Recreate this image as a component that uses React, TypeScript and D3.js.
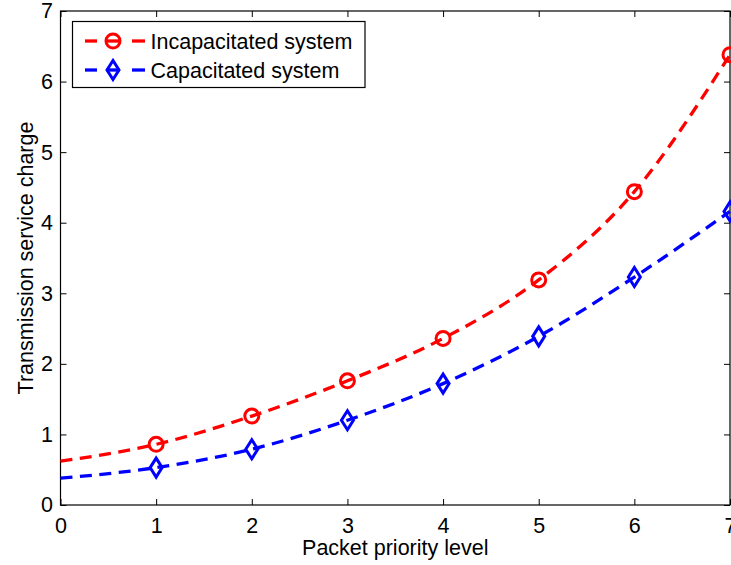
import { useEffect, useRef } from 'react';
import * as d3 from 'd3';

// packet priority levels (x) and the two charge series
const levels = [0, 1, 2, 3, 4, 5, 6, 7];
const incapacitated = [0.62, 0.86, 1.26, 1.76, 2.36, 3.19, 4.44, 6.38];
const capacitated = [0.38, 0.53, 0.79, 1.2, 1.72, 2.39, 3.23, 4.16];
const markerLevels = [1, 2, 3, 4, 5, 6, 7];
const xTicks = [0, 1, 2, 3, 4, 5, 6, 7];
const yTicks = [0, 1, 2, 3, 4, 5, 6, 7];
const seriesNames = ['Incapacitated system', 'Capacitated system'];

const FONT = '"Liberation Sans", Arial, Helvetica, sans-serif';

function diamond(cx: number, cy: number, w = 6, h = 9.5) {
  return `M${cx},${cy - h}L${cx + w},${cy}L${cx},${cy + h}L${cx - w},${cy}Z`;
}

function App() {
  const ref = useRef<SVGSVGElement>(null);

  useEffect(() => {
    drawChart();
    // eslint-disable-next-line
  }, []);

  function drawChart() {
    const config = { width: 731, height: 565, left: 60.5, right: 730, top: 11, bottom: 505 };
    const svg = d3.select(ref.current);
    svg.selectAll('*').remove();

    const xScale = d3.scaleLinear().domain([0, 7]).range([config.left, config.right]);
    const yScale = d3.scaleLinear().domain([0, 7]).range([config.bottom, config.top]);

    // axes, ticks pointing inward
    const styleAxis = (g: any) => {
      g.select('.domain').remove();
      g.selectAll('.tick line').attr('stroke', '#000').attr('stroke-width', 1);
      g.selectAll('.tick text')
        .attr('fill', '#000')
        .style('font-family', FONT)
        .style('font-size', '21.5px');
    };

    svg.append('g')
      .attr('transform', `translate(0,${config.bottom})`)
      .call(d3.axisBottom(xScale).tickValues(xTicks).tickSizeInner(-6).tickSizeOuter(0).tickPadding(13).tickFormat(d3.format('d')))
      .call(styleAxis);
    svg.append('g')
      .attr('transform', `translate(0,${config.top})`)
      .call(d3.axisTop(xScale).tickValues(xTicks).tickSizeInner(-6).tickSizeOuter(0).tickFormat(() => ''))
      .call(styleAxis);
    svg.append('g')
      .attr('transform', `translate(${config.left},0)`)
      .call(d3.axisLeft(yScale).tickValues(yTicks).tickSizeInner(-6).tickSizeOuter(0).tickPadding(7.5).tickFormat(d3.format('d')))
      .call(styleAxis);
    svg.append('g')
      .attr('transform', `translate(${config.right},0)`)
      .call(d3.axisRight(yScale).tickValues(yTicks).tickSizeInner(-6).tickSizeOuter(0).tickFormat(() => ''))
      .call(styleAxis);

    svg.append('rect')
      .attr('x', config.left)
      .attr('y', config.top)
      .attr('width', config.right - config.left)
      .attr('height', config.bottom - config.top)
      .attr('fill', 'none')
      .attr('stroke', '#000')
      .attr('stroke-width', 1.2);

    // axis labels
    svg.append('text')
      .attr('x', (config.left + config.right) / 2)
      .attr('y', 555)
      .attr('text-anchor', 'middle')
      .style('font-family', FONT)
      .style('font-size', '21.5px')
      .text('Packet priority level');
    svg.append('text')
      .attr('transform', `translate(32.5,${(config.top + config.bottom) / 2}) rotate(-90)`)
      .attr('text-anchor', 'middle')
      .style('font-family', FONT)
      .style('font-size', '21.5px')
      .text('Transmission service charge');

    const line = d3.line<number>()
      .x((_, i) => xScale(levels[i]))
      .y(d => yScale(d))
      .curve(d3.curveMonotoneX);

    const series = [
      { values: incapacitated, color: '#ff0000', marker: 'circle' },
      { values: capacitated, color: '#0000ff', marker: 'diamond' },
    ];

    const plot = svg.append('g');
    series.forEach(s => {
      plot.append('path')
        .datum(s.values)
        .attr('d', line)
        .attr('fill', 'none')
        .attr('stroke', s.color)
        .attr('stroke-width', 3.3)
        .attr('stroke-dasharray', '12 7.5');

      const pts = markerLevels.map(l => ({ x: xScale(l), y: yScale(s.values[levels.indexOf(l)]) }));
      if (s.marker === 'circle') {
        plot.selectAll(null).data(pts).enter().append('circle')
          .attr('cx', d => d.x).attr('cy', d => d.y).attr('r', 7)
          .attr('fill', 'none').attr('stroke', s.color).attr('stroke-width', 3);
      } else {
        plot.selectAll(null).data(pts).enter().append('path')
          .attr('d', d => diamond(d.x, d.y))
          .attr('fill', 'none').attr('stroke', s.color).attr('stroke-width', 3);
      }
    });

    // legend
    const legend = svg.append('g');
    legend.append('rect')
      .attr('x', 72.5).attr('y', 21.5).attr('width', 292.5).attr('height', 66)
      .attr('fill', '#fff').attr('stroke', '#000').attr('stroke-width', 1.2);
    const rowY = [41, 70];
    series.forEach((s, i) => {
      const y = rowY[i];
      [[85, 97], [106.5, 119.5], [132, 145]].forEach(([a, b]) => {
        legend.append('line')
          .attr('x1', a).attr('x2', b).attr('y1', y).attr('y2', y)
          .attr('stroke', s.color).attr('stroke-width', 3.3);
      });
      if (s.marker === 'circle') {
        legend.append('circle').attr('cx', 113).attr('cy', y).attr('r', 7)
          .attr('fill', 'none').attr('stroke', s.color).attr('stroke-width', 3);
      } else {
        legend.append('path').attr('d', diamond(113, y))
          .attr('fill', 'none').attr('stroke', s.color).attr('stroke-width', 3);
      }
      legend.append('text')
        .attr('x', 150.5).attr('y', y).attr('dy', '0.36em')
        .style('font-family', FONT)
        .style('font-size', '21.5px')
        .text(seriesNames[i]);
    });
  }

  return (
    <svg
      ref={ref}
      width={731}
      height={565}
      style={{ position: 'absolute', left: 0, top: 0, background: '#fff', display: 'block' }}
    />
  );
}

export default App;
